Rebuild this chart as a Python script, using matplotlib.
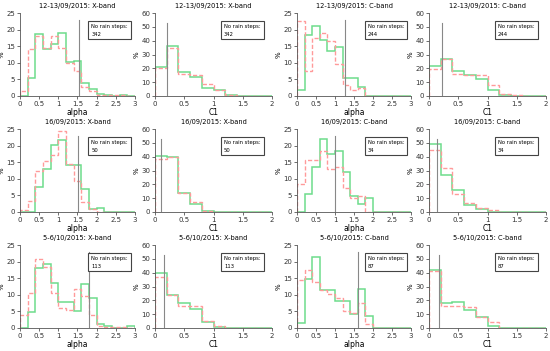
import numpy as np
import matplotlib
matplotlib.use("Agg")
import matplotlib.pyplot as plt

# ==========================================
# DATA
# ==========================================

alpha_edges = np.arange(0, 3.01, 0.2)
c1_edges = np.arange(0, 2.01, 0.2)

titles = [
    "12-13/09/2015: X-band", "12-13/09/2015: X-band", "12-13/09/2015: C-band", "12-13/09/2015: C-band",
    "16/09/2015: X-band", "16/09/2015: X-band", "16/09/2015: C-band", "16/09/2015: C-band",
    "5-6/10/2015: X-band", "5-6/10/2015: X-band", "5-6/10/2015: C-band", "5-6/10/2015: C-band",
]
kinds = ["alpha", "C1", "alpha", "C1"] * 3
n_steps = ["342", "342", "244", "244", "50", "50", "34", "34", "113", "113", "87", "87"]
vlines = [1.55, 0.20, 1.25, 0.23, 1.51, 0.11, 1.01, 0.14, 1.80, 0.16, 1.60, 0.17]

green = [
    [0, 5.3, 18.8, 14.3, 15.8, 19, 10.2, 10.5, 4, 2, 0.6, 0.3, 0, 0.3, 0],
    [21, 36.5, 17, 14, 6, 4, 0.7, 0, 0, 0],
    [1.7, 18.3, 21.2, 16.8, 13.7, 14.7, 5.3, 5.3, 2.8, 0, 0, 0, 0, 0, 0],
    [22, 27, 18, 15, 12, 4, 0.7, 0, 0, 0],
    [0, 0, 7.6, 12.9, 20.3, 21.6, 14.2, 14.2, 7, 0.8, 1.2, 0, 0, 0, 0],
    [40.5, 39.5, 14, 5.5, 0.5, 0, 0, 0, 0, 0],
    [0, 5.3, 13.7, 22, 17.4, 18.5, 11.9, 4.8, 2.4, 4.1, 0, 0, 0, 0, 0],
    [49.5, 27, 16, 5, 2.5, 0, 0, 0, 0, 0],
    [0, 4.8, 18, 19.3, 13.7, 7.7, 7.7, 5, 13.3, 9, 1.1, 0.6, 0, 0, 0.5],
    [39.5, 24, 18, 13.5, 4, 1, 0, 0, 0, 0],
    [1.4, 14.8, 21.4, 11.4, 11.5, 8.2, 8.2, 4.2, 11.7, 3.5, 0, 0, 0, 0, 0],
    [42, 18, 19, 13, 8, 1.5, 0, 0, 0, 0],
]
pink = [
    [1.5, 14.2, 18, 14.5, 18, 14.5, 10, 7.5, 2.8, 1.5, 0.3, 0.3, 0.3, 0.3, 0],
    [20, 35, 16, 15, 8.5, 4.5, 1, 0, 0, 0],
    [22.7, 7.4, 17.6, 19, 16.5, 9.5, 3.2, 1.8, 2.5, 0, 0, 0, 0, 0, 0],
    [19.5, 26.5, 16, 15, 15, 8, 1.3, 0.5, 0, 0],
    [0.5, 3.4, 12.2, 15.5, 17.3, 24.3, 14.4, 9.3, 2.9, 1.0, 0, 0, 0, 0, 0],
    [38, 40, 14, 7.5, 1, 0, 0, 0, 0, 0],
    [8.3, 15.6, 15.6, 18.5, 13, 13.7, 7.1, 4.3, 4.8, 0, 0, 0, 0, 0, 0],
    [45, 31.5, 13, 6.5, 3, 1.5, 0, 0, 0, 0],
    [4, 10.5, 20.7, 18.5, 10.5, 6, 5.3, 11.7, 9.5, 4, 0.5, 0.3, 0.3, 0.3, 0],
    [37, 24, 16, 16, 5, 1.5, 0, 0, 0, 0],
    [14.4, 17.6, 13.8, 11.4, 10.2, 9, 5.2, 4.6, 7.4, 1.2, 0, 0, 0, 0, 0],
    [41, 16, 16, 15, 8, 4, 0, 0, 0, 0],
]

# ==========================================
# FIGURE
# ==========================================

W, H = 550, 351
fig = plt.figure(figsize=(5.5, 3.51), dpi=100)

col_left = [20, 155, 297, 429]
col_width = [115, 117, 114, 117]
row_top = [13, 129, 245]
ax_h = 83

green_col = "#6edc8c"
pink_col = "#ff9a9a"

for i in range(12):
    r, c = divmod(i, 4)
    ax = fig.add_axes([col_left[c] / W, 1 - (row_top[r] + ax_h) / H,
                       col_width[c] / W, ax_h / H])

    if kinds[i] == "alpha":
        edges = alpha_edges
        ax.set_xlim(0, 3)
        ax.set_ylim(0, 25)
        ax.set_xticks([0, 0.5, 1, 1.5, 2, 2.5, 3])
        ax.set_xticklabels(["0", "0.5", "1", "1.5", "2", "2.5", "3"])
        ax.set_yticks([0, 5, 10, 15, 20, 25])
        vtop = 23
    else:
        edges = c1_edges
        ax.set_xlim(0, 2)
        ax.set_ylim(0, 60)
        ax.set_xticks([0, 0.5, 1, 1.5, 2])
        ax.set_xticklabels(["0", "0.5", "1", "1.5", "2"])
        ax.set_yticks([0, 10, 20, 30, 40, 50, 60])
        vtop = 53

    ax.stairs(green[i], edges, color=green_col, lw=1.1, baseline=0)
    ax.stairs(pink[i], edges, color=pink_col, lw=1.0, ls=(0, (3, 1.5)), baseline=0)
    ax.plot([vlines[i], vlines[i]], [0, vtop], color="#888888", lw=0.8)

    ax.set_title(titles[i], fontsize=4.8, pad=3.5)
    ax.set_xlabel(kinds[i], fontsize=5.5, labelpad=1)
    ax.set_ylabel("%", fontsize=5, labelpad=1)

    for s in ["top", "right"]:
        ax.spines[s].set_visible(False)
    for s in ["left", "bottom"]:
        ax.spines[s].set_color("#555555")
        ax.spines[s].set_linewidth(0.6)
    ax.tick_params(labelsize=5, length=2, width=0.5, pad=1.5, colors="#333333")

    ax.text(0.62 if kinds[i] == "alpha" else 0.59, 0.87,
            "No rain steps:\n" + n_steps[i],
            transform=ax.transAxes, fontsize=3.8, va="top", ha="left",
            linespacing=1.7,
            bbox=dict(boxstyle="square,pad=0.55", fc="white", ec="#444444", lw=0.8))

fig.savefig("out.png", dpi=100)
